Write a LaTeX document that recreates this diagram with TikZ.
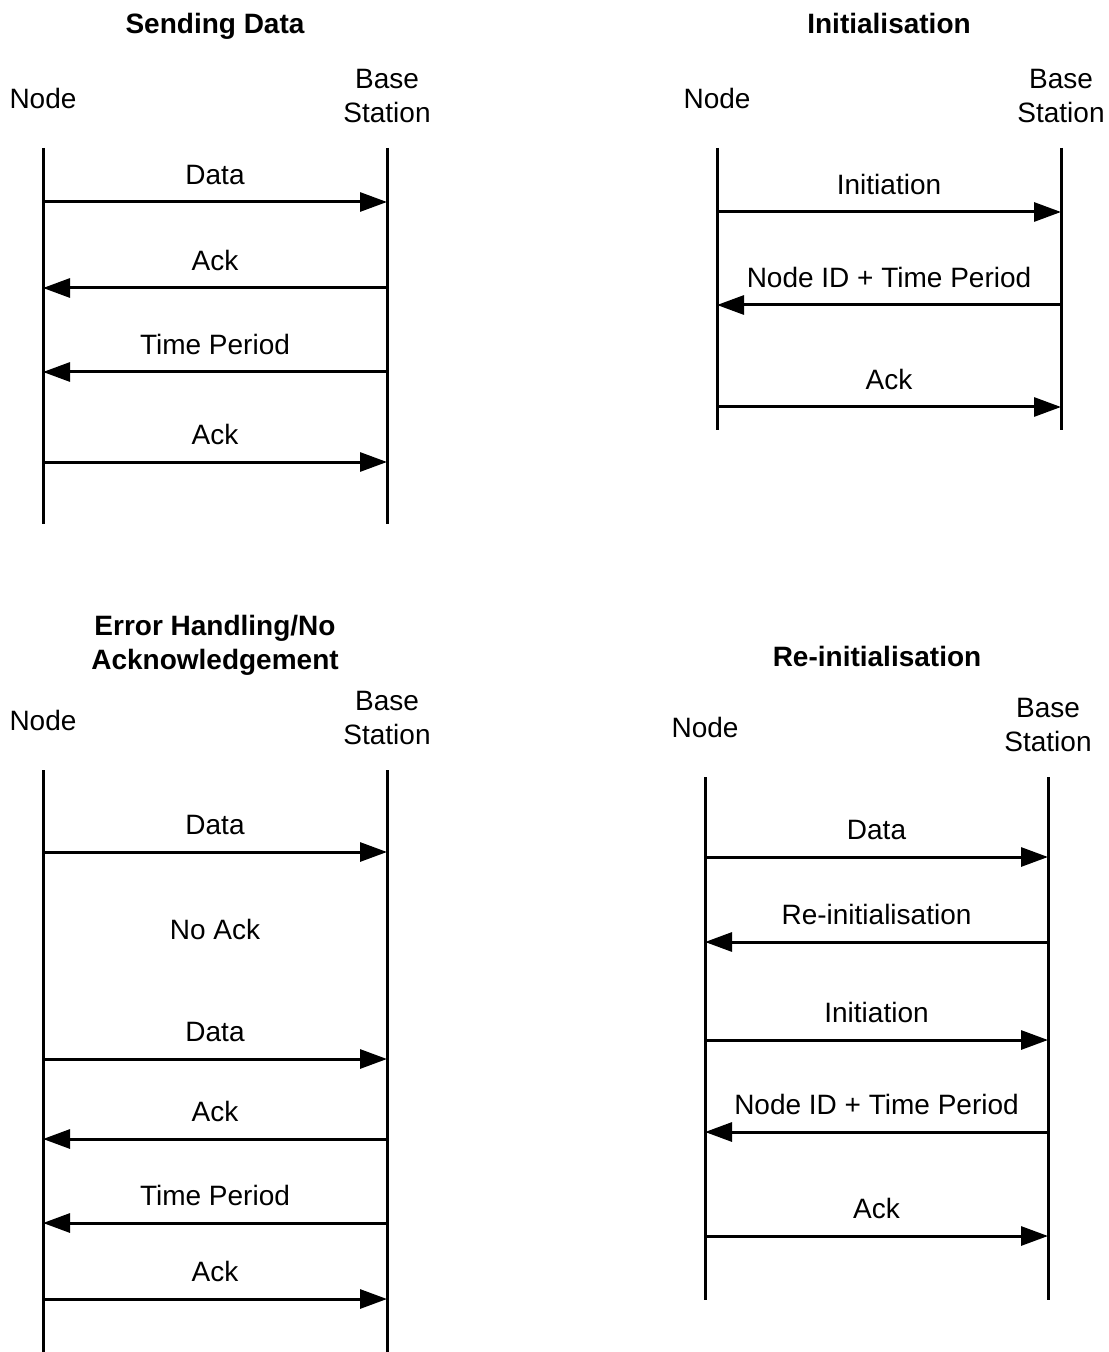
\documentclass[tikz,border=0pt]{standalone}
\usepackage{fontspec}
\setmainfont{Liberation Sans}
\usetikzlibrary{arrows.meta,positioning}
\tikzstyle{ttl}=[font=\fontsize{14}{17}\selectfont\bfseries,align=center,inner sep=0pt,text depth=0pt]
\tikzstyle{actor}=[font=\fontsize{14}{17}\selectfont,align=center,inner sep=0pt,text depth=0pt]
\tikzstyle{lbl}=[font=\fontsize{14}{17}\selectfont,inner sep=0pt,text depth=0pt,yshift=13.75pt]
\tikzstyle{life}=[line width=1.5pt]
\tikzstyle{msg}=[line width=1.5pt,-{Triangle[length=13.5pt,width=9.5pt]}]
\begin{document}
\begin{tikzpicture}[x=0.5pt,y=-0.5pt]
\useasboundingbox (0,0) rectangle (1108,1352);

\node[ttl] (sdT) at (215,23) {Sending Data};
\node[actor] (sdNode) at (43,98) {Node};
\node[actor] (sdBase) at (387,96) {Base\\Station};
\coordinate (sdN) at (43,148);
\coordinate (sdNe) at (43,524);
\coordinate (sdB) at (387,148);
\coordinate (sdBe) at (387,524);
\draw[life] (sdN) -- (sdNe);
\draw[life] (sdB) -- (sdBe);
\draw[msg] (sdN |- 0,202) -- node[lbl] (sd1) {Data} (sdB |- 0,202);
\draw[msg] (sdB |- 0,288) -- node[lbl] (sd2) {Ack} (sdN |- 0,288);
\draw[msg] (sdB |- 0,372) -- node[lbl] (sd3) {Time Period} (sdN |- 0,372);
\draw[msg] (sdN |- 0,462) -- node[lbl] (sd4) {Ack} (sdB |- 0,462);

\node[ttl] (inT) at (889,23) {Initialisation};
\node[actor] (inNode) at (717,98) {Node};
\node[actor] (inBase) at (1061,96) {Base\\Station};
\coordinate (inN) at (717,148);
\coordinate (inNe) at (717,430);
\coordinate (inB) at (1061,148);
\coordinate (inBe) at (1061,430);
\draw[life] (inN) -- (inNe);
\draw[life] (inB) -- (inBe);
\draw[msg] (inN |- 0,212) -- node[lbl] (in1) {Initiation} (inB |- 0,212);
\draw[msg] (inB |- 0,305) -- node[lbl] (in2) {Node ID + Time Period} (inN |- 0,305);
\draw[msg] (inN |- 0,407) -- node[lbl] (in3) {Ack} (inB |- 0,407);

\node[ttl] (ehT) at (215,642) {Error Handling/No\\Acknowledgement};
\node[actor] (ehNode) at (43,720) {Node};
\node[actor] (ehBase) at (387,718) {Base\\Station};
\coordinate (ehN) at (43,770);
\coordinate (ehNe) at (43,1352);
\coordinate (ehB) at (387,770);
\coordinate (ehBe) at (387,1352);
\draw[life] (ehN) -- (ehNe);
\draw[life] (ehB) -- (ehBe);
\draw[msg] (ehN |- 0,852) -- node[lbl] (eh1) {Data} (ehB |- 0,852);
\node[actor] (ehNoAck) at (215,929) {No Ack};
\draw[msg] (ehN |- 0,1059) -- node[lbl] (eh2) {Data} (ehB |- 0,1059);
\draw[msg] (ehB |- 0,1139) -- node[lbl] (eh3) {Ack} (ehN |- 0,1139);
\draw[msg] (ehB |- 0,1223) -- node[lbl] (eh4) {Time Period} (ehN |- 0,1223);
\draw[msg] (ehN |- 0,1299) -- node[lbl] (eh5) {Ack} (ehB |- 0,1299);

\node[ttl] (riT) at (877,656) {Re-initialisation};
\node[actor] (riNode) at (705,727) {Node};
\node[actor] (riBase) at (1048,725) {Base\\Station};
\coordinate (riN) at (705,777);
\coordinate (riNe) at (705,1300);
\coordinate (riB) at (1048,777);
\coordinate (riBe) at (1048,1300);
\draw[life] (riN) -- (riNe);
\draw[life] (riB) -- (riBe);
\draw[msg] (riN |- 0,857) -- node[lbl] (ri1) {Data} (riB |- 0,857);
\draw[msg] (riB |- 0,942) -- node[lbl] (ri2) {Re-initialisation} (riN |- 0,942);
\draw[msg] (riN |- 0,1040) -- node[lbl] (ri3) {Initiation} (riB |- 0,1040);
\draw[msg] (riB |- 0,1132) -- node[lbl] (ri4) {Node ID + Time Period} (riN |- 0,1132);
\draw[msg] (riN |- 0,1236) -- node[lbl] (ri5) {Ack} (riB |- 0,1236);
\end{tikzpicture}
\end{document}
